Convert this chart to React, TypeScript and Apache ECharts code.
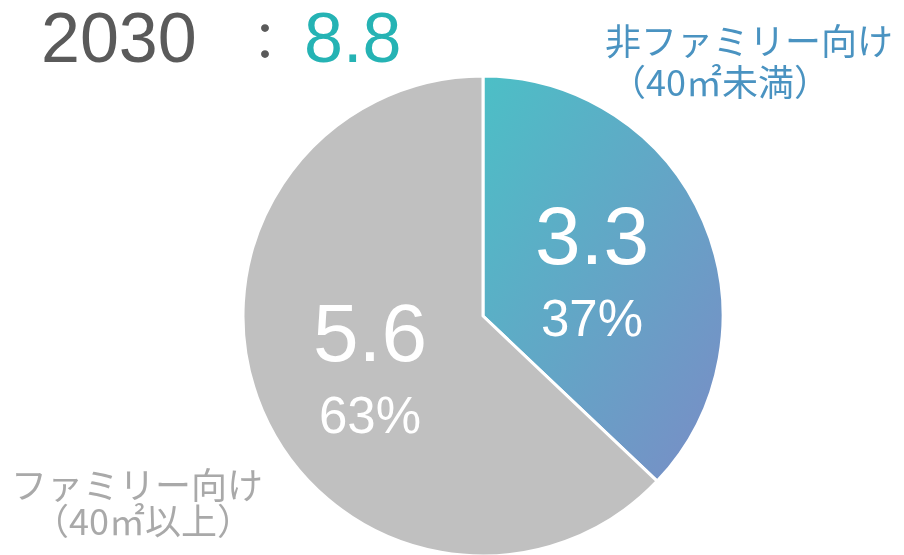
import React, { useEffect, useRef } from "react";
import * as echarts from "echarts";

const year = "2030";
const total = "8.8";
const categories = ["非ファミリー向け\n（40㎡未満）", "ファミリー向け\n（40㎡以上）"];
const values = [3.3, 5.6];
const percents = ["37%", "63%"];

const NUM_FONT = '"Liberation Sans", Arial, Helvetica, sans-serif';
const JP_FONT = '"Noto Sans CJK JP", "Noto Sans", sans-serif';

export default function App() {
  const ref = useRef<HTMLDivElement>(null);
  useEffect(() => {
    if (!ref.current) return;
    const chart = echarts.init(ref.current, undefined, { renderer: "svg" });
    const itemColors: any[] = [
      new echarts.graphic.LinearGradient(0, 0, 1, 1, [
        { offset: 0, color: "#4cbfc6" },
        { offset: 1, color: "#7a8cc6" },
      ]),
      "#c0c0c0",
    ];
    const topLines = categories[0].split("\n");
    const botLines = categories[1].split("\n");
    const jpText = (text: string, x: number, y: number, fill: string) => ({
      type: "text",
      x,
      y,
      style: {
        text,
        fontFamily: JP_FONT,
        fontSize: 36,
        fill,
        verticalAlign: "middle",
        align: "left",
      },
    });
    chart.setOption({
      animation: false,
      graphic: [
        {
          type: "text",
          x: 41,
          y: 38,
          style: {
            text: year,
            fontFamily: NUM_FONT,
            fontSize: 70,
            fill: "#5a5a5a",
            verticalAlign: "middle",
          },
        },
        {
          type: "text",
          x: 265,
          y: 38,
          style: {
            text: "：",
            fontFamily: JP_FONT,
            fontSize: 52,
            fill: "#5a5a5a",
            align: "center",
            verticalAlign: "middle",
          },
        },
        {
          type: "text",
          x: 304,
          y: 38,
          style: {
            text: total,
            fontFamily: NUM_FONT,
            fontSize: 70,
            fill: "#25b3b4",
            verticalAlign: "middle",
          },
        },
        jpText(topLines[0], 605, 39, "#4a93c1"),
        jpText(topLines[1], 610, 80, "#4a93c1"),
        jpText(botLines[0], 11, 483, "#a9a9a9"),
        jpText(botLines[1], 33, 519, "#a9a9a9"),
      ],
      series: [
        {
          type: "pie",
          center: [483, 316],
          radius: [0, 240],
          startAngle: 90,
          clockwise: true,
          silent: true,
          itemStyle: { borderColor: "#ffffff", borderWidth: 3 },
          labelLine: { show: false },
          label: {
            show: true,
            position: "inside",
            color: "#ffffff",
            formatter: (p: any) => `{v|${p.value}}\n{p|${percents[p.dataIndex]}}`,
            rich: {
              v: { fontFamily: NUM_FONT, fontSize: 82, color: "#ffffff", lineHeight: 92 },
              p: { fontFamily: NUM_FONT, fontSize: 51, color: "#ffffff", lineHeight: 74 },
            },
          },
          data: values.map((v, i) => ({
            value: v,
            name: categories[i],
            itemStyle: { color: itemColors[i] },
            label: { offset: i === 0 ? [-4, 5] : [0, 5] },
          })),
        },
      ],
    });
    return () => chart.dispose();
  }, []);
  return (
    <div
      ref={ref}
      style={{ position: "fixed", left: 0, top: 0, width: 904, height: 555 }}
    />
  );
}
